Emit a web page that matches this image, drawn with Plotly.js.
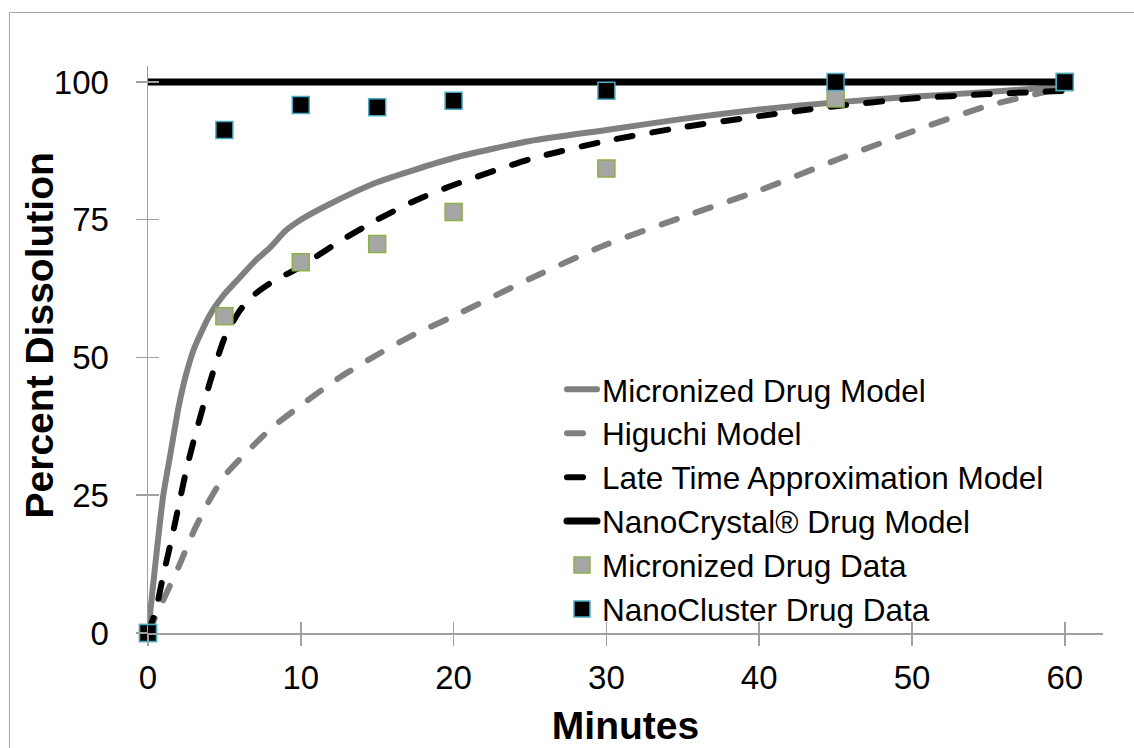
<!DOCTYPE html>
<html>
<head>
<meta charset="utf-8">
<script src="https://cdn.plot.ly/plotly-3.0.1.min.js"></script>
<style>
  html, body { margin: 0; padding: 0; background: #ffffff; }
  #chart { width: 1134px; height: 748px; position: absolute; left: 0; top: 0; }
  #frame { position: absolute; left: 9px; top: 12px; width: 1140px; height: 760px;
           border: 1px solid #a6a6a6; pointer-events: none; }
  .scatterlayer .js-line, .legend .js-line { stroke-linecap: round; }
</style>
</head>
<body>
<div id="chart"></div>
<div id="frame"></div>
<script>
// ---- data ----
const microModelX = [0, 0.5, 1, 1.5, 2, 2.5, 3, 4, 5, 6, 7, 8, 9, 10, 12, 15, 20, 25, 30, 35, 40, 45, 50, 55, 60];
const microModelY = [0, 13, 25, 33, 41, 47, 51.5, 57.5, 61.5, 64.5, 67.5, 70, 73, 75, 78, 81.8, 86.2, 89.3, 91.3, 93.3, 95.0, 96.3, 97.3, 98.2, 99.2];

const higuchiX = [0, 0.5, 1, 2, 3, 4, 5, 6, 8, 10, 12.5, 15, 17.5, 20, 25, 30, 35, 40, 45, 50, 55, 60];
const higuchiY = [0, 3, 6, 12, 18.5, 24, 28.5, 31.5, 37, 41.3, 46.3, 50.5, 54.3, 57.5, 64.3, 70.5, 75.5, 80.3, 85.8, 91, 95.7, 99];

const lateTimeX = [0, 0.5, 1, 1.5, 2, 2.5, 3, 3.5, 4, 5, 6, 7, 8, 10, 12.5, 15, 17.5, 20, 25, 30, 35, 40, 45, 50, 55, 60];
const lateTimeY = [0, 4, 10.5, 16.5, 23, 29.5, 35, 40, 45, 53.5, 58.5, 61.5, 63.5, 66.5, 71, 75, 78.5, 81.3, 86, 89.3, 91.8, 93.8, 95.6, 97, 97.8, 98.4];

const nanoCrystalX = [0, 60];
const nanoCrystalY = [100, 100];

const dataTimes = [0, 5, 10, 15, 20, 30, 45, 60];
const microDataY = [0, 57.5, 67.3, 70.6, 76.4, 84.3, 97, 100];
const nanoClusterY = [0, 91.3, 95.8, 95.4, 96.6, 98.4, 100, 100];

const xTicks = [0, 10, 20, 30, 40, 50, 60];
const yTicks = [0, 25, 50, 75, 100];

const seriesNames = ["Micronized Drug Model", "Higuchi Model", "Late Time Approximation Model",
                     "NanoCrystal® Drug Model", "Micronized Drug Data", "NanoCluster Drug Data"];
const xTitle = "Minutes";
const yTitle = "Percent Dissolution";

// ---- chart ----
const FONT = '"Liberation Sans", Arial, sans-serif';
const AXIS_COL = '#a0a0a0';

const traces = [
  { x: microModelX, y: microModelY, name: seriesNames[0], mode: 'lines',
    line: { color: '#808080', width: 6, shape: 'spline', smoothing: 0.6 } },
  { x: higuchiX, y: higuchiY, name: seriesNames[1], mode: 'lines',
    line: { color: '#808080', width: 6, dash: '16px,20px', shape: 'spline', smoothing: 0.6 } },
  { x: lateTimeX, y: lateTimeY, name: seriesNames[2], mode: 'lines',
    line: { color: '#000000', width: 6, dash: '16px,20px', shape: 'spline', smoothing: 0.6 } },
  { x: nanoCrystalX, y: nanoCrystalY, name: seriesNames[3], mode: 'lines',
    line: { color: '#000000', width: 7 } },
  { x: dataTimes, y: microDataY, name: seriesNames[4], mode: 'markers', cliponaxis: false,
    marker: { symbol: 'square', size: 17, color: '#a6a6a6', line: { color: '#8cb04a', width: 1.5 } } },
  { x: dataTimes, y: nanoClusterY, name: seriesNames[5], mode: 'markers', cliponaxis: false,
    marker: { symbol: 'square', size: 17, color: '#000000', line: { color: '#4bacc6', width: 1.5 } } },
  // helper (empty) trace so the cross-tick overlay axes exist
  { x: [], y: [], xaxis: 'x2', yaxis: 'y2', showlegend: false, hoverinfo: 'skip', mode: 'markers' }
];

const layout = {
  width: 1134, height: 748,
  margin: { l: 148, r: 31, t: 66, b: 115 },
  paper_bgcolor: '#ffffff', plot_bgcolor: '#ffffff',
  font: { family: FONT, color: '#000000', size: 33 },
  showlegend: true,
  legend: {
    x: 0.4335, xanchor: 'left', y: 0.4775, yanchor: 'top',
    bgcolor: 'rgba(0,0,0,0)', borderwidth: 0,
    font: { family: FONT, size: 31.5, color: '#000000' },
    tracegroupgap: 0
  },
  xaxis: {
    range: [0, 62.5], tickvals: xTicks, ticktext: xTicks.map(String),
    showgrid: false, zeroline: false, showline: true, linecolor: AXIS_COL, linewidth: 1.5,
    ticks: 'outside', ticklen: 11, tickwidth: 1.5, tickcolor: AXIS_COL,
    tickfont: { family: FONT, size: 33, color: '#000000' }, ticklabelstandoff: 4,
    title: { text: '<b>' + xTitle + '</b>', font: { family: FONT, size: 39, color: '#000000' }, standoff: 16 },
    fixedrange: true
  },
  yaxis: {
    range: [0, 102.9], tickvals: yTicks, ticktext: yTicks.map(String),
    showgrid: false, zeroline: false, showline: true, linecolor: AXIS_COL, linewidth: 1.5,
    ticks: 'outside', ticklen: 11, tickwidth: 1.5, tickcolor: AXIS_COL,
    tickfont: { family: FONT, size: 33, color: '#000000' }, ticklabelstandoff: 20,
    fixedrange: true
  },
  xaxis2: {
    overlaying: 'x', anchor: 'y2', range: [0, 62.5], tickvals: xTicks,
    showticklabels: false, showgrid: false, zeroline: false, showline: false,
    ticks: 'inside', ticklen: 11, tickwidth: 1.5, tickcolor: AXIS_COL, fixedrange: true
  },
  yaxis2: {
    overlaying: 'y', anchor: 'x2', range: [0, 102.9], tickvals: yTicks,
    showticklabels: false, showgrid: false, zeroline: false, showline: false,
    ticks: 'inside', ticklen: 11, tickwidth: 1.5, tickcolor: AXIS_COL, fixedrange: true
  },
  annotations: [{
    text: '<b>' + yTitle + '</b>', textangle: -90, showarrow: false,
    xref: 'paper', yref: 'paper', x: -0.114, y: 0.525, xanchor: 'center', yanchor: 'middle',
    font: { family: FONT, size: 39, color: '#000000' }
  }]
};

Plotly.newPlot('chart', traces, layout, { displayModeBar: false, staticPlot: true });
</script>
</body>
</html>
